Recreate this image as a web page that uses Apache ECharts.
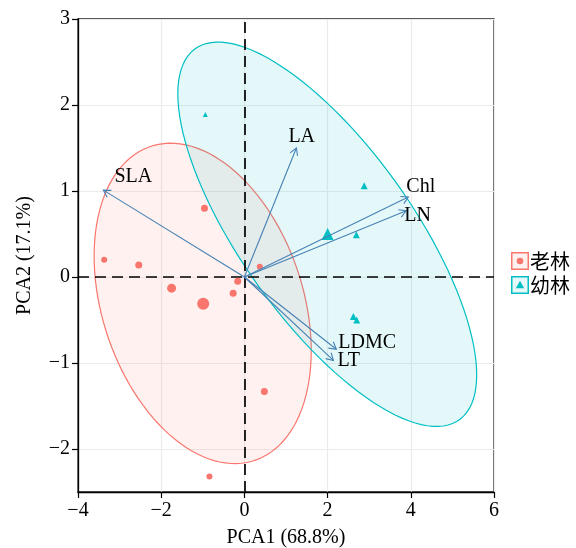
<!DOCTYPE html>
<html><head><meta charset="utf-8">
<script src="https://cdn.jsdelivr.net/npm/echarts@6.0.0/dist/echarts.min.js"></script>
<style>html,body{margin:0;padding:0;background:#fff}#c{width:576px;height:548px}</style>
</head><body><div id="c"></div>
<script>
// ---- data ----
const groupNames = ['老林', '幼林'];
const oldX = [-3.37, -2.54, -1.75, -0.99, -0.96, -0.16, -0.27, 0.37, 0.48, -0.84];
const oldY = [0.20, 0.14, -0.13, -0.31, 0.80, -0.05, -0.19, 0.12, -1.33, -2.32];
const oldSize = [6, 7, 9, 12, 7, 7, 7, 6, 7, 6];
const youngX = [-0.94, 2.88, 2.00, 2.69, 2.62, 2.70];
const youngY = [1.89, 1.06, 0.50, 0.49, -0.46, -0.50];
const youngSize = [5, 7, 12, 7, 7, 7];
const varNames = ['SLA', 'LA', 'Chl', 'LN', 'LDMC', 'LT'];
const loadX = [-3.39, 1.25, 3.94, 3.89, 2.21, 2.14];
const loadY = [1.01, 1.50, 0.93, 0.77, -0.84, -0.97];
const xTicks = [-4, -2, 0, 2, 4, 6];
const yTicks = [-2, -1, 0, 1, 2, 3];
const xName = 'PCA1 (68.8%)';
const yName = 'PCA2 (17.1%)';
const ellipseLevels = [0.89, 0.95];

// ---- style ----
const RED = '#F8766D', TEAL = '#00BFC4', ARROW = '#4682B4';
const SERIF = '"Liberation Serif", "Times New Roman", serif';
const FS = 20;
const labelOffsets = [[11, -13], [-8, -11], [-2, -10], [-2, 5], [2, -6], [4, 0]];

// ---- stats: normal data ellipse ----
function mean(a) { return a.reduce((s, v) => s + v, 0) / a.length; }
function covNorm(xs, ys) {
  const n = xs.length, mx = mean(xs), my = mean(ys);
  let a = 0, b = 0, c = 0;
  for (let i = 0; i < n; i++) { const dx = xs[i] - mx, dy = ys[i] - my; a += dx * dx; b += dx * dy; c += dy * dy; }
  return { center: [mx, my], cov: [a / (n - 1), b / (n - 1), c / (n - 1)] };
}
function ellipsePoints(xs, ys, level) {
  const v = covNorm(xs, ys);
  const radius = Math.sqrt(-2 * Math.log(1 - level)); // sqrt(qchisq(level, 2))
  const r11 = Math.sqrt(v.cov[0]), r12 = v.cov[1] / r11, r22 = Math.sqrt(v.cov[2] - r12 * r12);
  const pts = [];
  const seg = 120;
  for (let k = 0; k <= seg; k++) {
    const t = k * 2 * Math.PI / seg, ct = Math.cos(t), st = Math.sin(t);
    pts.push([v.center[0] + radius * ct * r11, v.center[1] + radius * (ct * r12 + st * r22)]);
  }
  return pts;
}
const oldEll = ellipsePoints(oldX, oldY, ellipseLevels[0]);
const youngEll = ellipsePoints(youngX, youngY, ellipseLevels[1]);

function rgba(hex, a) {
  const n = parseInt(hex.slice(1), 16);
  return `rgba(${(n >> 16) & 255},${(n >> 8) & 255},${n & 255},${a})`;
}
function ellipseSeries(pts, color) {
  return {
    type: 'custom', silent: true, z: 1, data: [0], clip: false,
    renderItem: (params, api) => ({
      type: 'polygon',
      shape: { points: pts.map(p => api.coord(p)) },
      style: { fill: rgba(color, 0.1), stroke: color, lineWidth: 1.2 }
    })
  };
}
const fmt = v => (v < 0 ? '\u2212' + Math.abs(v) : String(v));

function svgIcon(color, fill, inner) {
  const svg = `<svg xmlns='http://www.w3.org/2000/svg' width='18' height='18'><rect x='0.75' y='0.75' width='16.5' height='16.5' fill='${fill}' stroke='${color}' stroke-width='1.5'/>${inner}</svg>`;
  return 'image://data:image/svg+xml;charset=utf-8,' + encodeURIComponent(svg);
}
const iconOld = svgIcon(RED, '#FEF1F0', `<circle cx='9' cy='9' r='3.3' fill='${RED}'/>`);
const iconYoung = svgIcon(TEAL, '#E6F8F9', `<polygon points='9,4.8 13.2,12.2 4.8,12.2' fill='${TEAL}'/>`);

const chart = echarts.init(document.getElementById('c'), null, { renderer: 'canvas' });
chart.setOption({
  animation: false,
  backgroundColor: '#fff',
  grid: { left: 78, right: 82, top: 19, bottom: 56, show: true, borderColor: '#222', borderWidth: 1.3, containLabel: false, outerBoundsMode: 'none' },
  legend: {
    orient: 'vertical', left: 506, top: 246, itemWidth: 18, itemHeight: 18, itemGap: 4,
    selectedMode: false,
    textStyle: { fontSize: 20, fontFamily: '"Noto Sans CJK SC"', color: '#000', padding: [0, 0, 0, -4] },
    data: [{ name: groupNames[0], icon: iconOld }, { name: groupNames[1], icon: iconYoung }]
  },
  xAxis: {
    type: 'value', min: -4, max: 6, interval: 1,
    name: xName, nameLocation: 'middle', nameGap: 36,
    nameTextStyle: { fontFamily: SERIF, fontSize: FS, color: '#000' },
    axisLine: { onZero: false, lineStyle: { color: '#000', width: 1.3 } },
    axisTick: { show: true, customValues: xTicks, length: 6, lineStyle: { color: '#000', width: 1.2 } },
    axisLabel: { customValues: xTicks, formatter: fmt, fontFamily: SERIF, fontSize: FS, color: '#000', margin: 9 },
    splitLine: { show: true, lineStyle: { color: '#ebebeb', width: 1.2 } }
  },
  yAxis: {
    type: 'value', min: -2.5, max: 3, interval: 0.5,
    name: yName, nameLocation: 'middle', nameGap: 43, nameRotate: 90,
    nameTextStyle: { fontFamily: SERIF, fontSize: FS, color: '#000' },
    axisLine: { onZero: false, lineStyle: { color: '#000', width: 1.3 } },
    axisTick: { show: true, customValues: yTicks, length: 6, lineStyle: { color: '#000', width: 1.2 } },
    axisLabel: { customValues: yTicks, formatter: fmt, fontFamily: SERIF, fontSize: FS, color: '#000', margin: 8 },
    splitLine: { show: true, lineStyle: { color: '#ebebeb', width: 1.2 } }
  },
  series: [
    ellipseSeries(oldEll, RED),
    ellipseSeries(youngEll, TEAL),
    {
      name: groupNames[0], type: 'scatter', z: 3, symbol: 'circle',
      data: oldX.map((x, i) => [x, oldY[i]]),
      symbolSize: (v, p) => oldSize[p.dataIndex],
      itemStyle: { color: RED, opacity: 1 },
      markLine: {
        silent: true, symbol: 'none', animation: false, z: 2,
        label: { show: false },
        lineStyle: { color: '#000', type: [11, 6], width: 1.7 },
        data: [{ xAxis: 0 }, { yAxis: 0 }]
      }
    },
    {
      name: groupNames[1], type: 'scatter', z: 3, symbol: 'triangle',
      data: youngX.map((x, i) => [x, youngY[i]]),
      symbolSize: (v, p) => youngSize[p.dataIndex],
      itemStyle: { color: TEAL, opacity: 1 }
    },
    {
      type: 'custom', silent: true, z: 4, clip: false,
      data: loadX.map((x, i) => [x, loadY[i]]),
      renderItem: (params, api) => {
        const i = params.dataIndex;
        const o = api.coord([0, 0]);
        const t = api.coord([api.value(0), api.value(1)]);
        const ang = Math.atan2(t[1] - o[1], t[0] - o[0]);
        const L = 8, a = Math.PI / 6;
        const h1 = [t[0] - L * Math.cos(ang - a), t[1] - L * Math.sin(ang - a)];
        const h2 = [t[0] - L * Math.cos(ang + a), t[1] - L * Math.sin(ang + a)];
        const off = labelOffsets[i];
        return {
          type: 'group', children: [
            { type: 'line', shape: { x1: o[0], y1: o[1], x2: t[0], y2: t[1] }, style: { stroke: ARROW, lineWidth: 1.1 } },
            { type: 'polyline', shape: { points: [h1, t, h2] }, style: { stroke: ARROW, lineWidth: 1.1, fill: null } },
            { type: 'text', x: t[0] + off[0], y: t[1] + off[1], style: { text: varNames[i], fill: '#000', fontSize: FS, fontFamily: SERIF, align: 'left', verticalAlign: 'middle' } }
          ]
        };
      }
    }
  ]
});
</script>
</body></html>
